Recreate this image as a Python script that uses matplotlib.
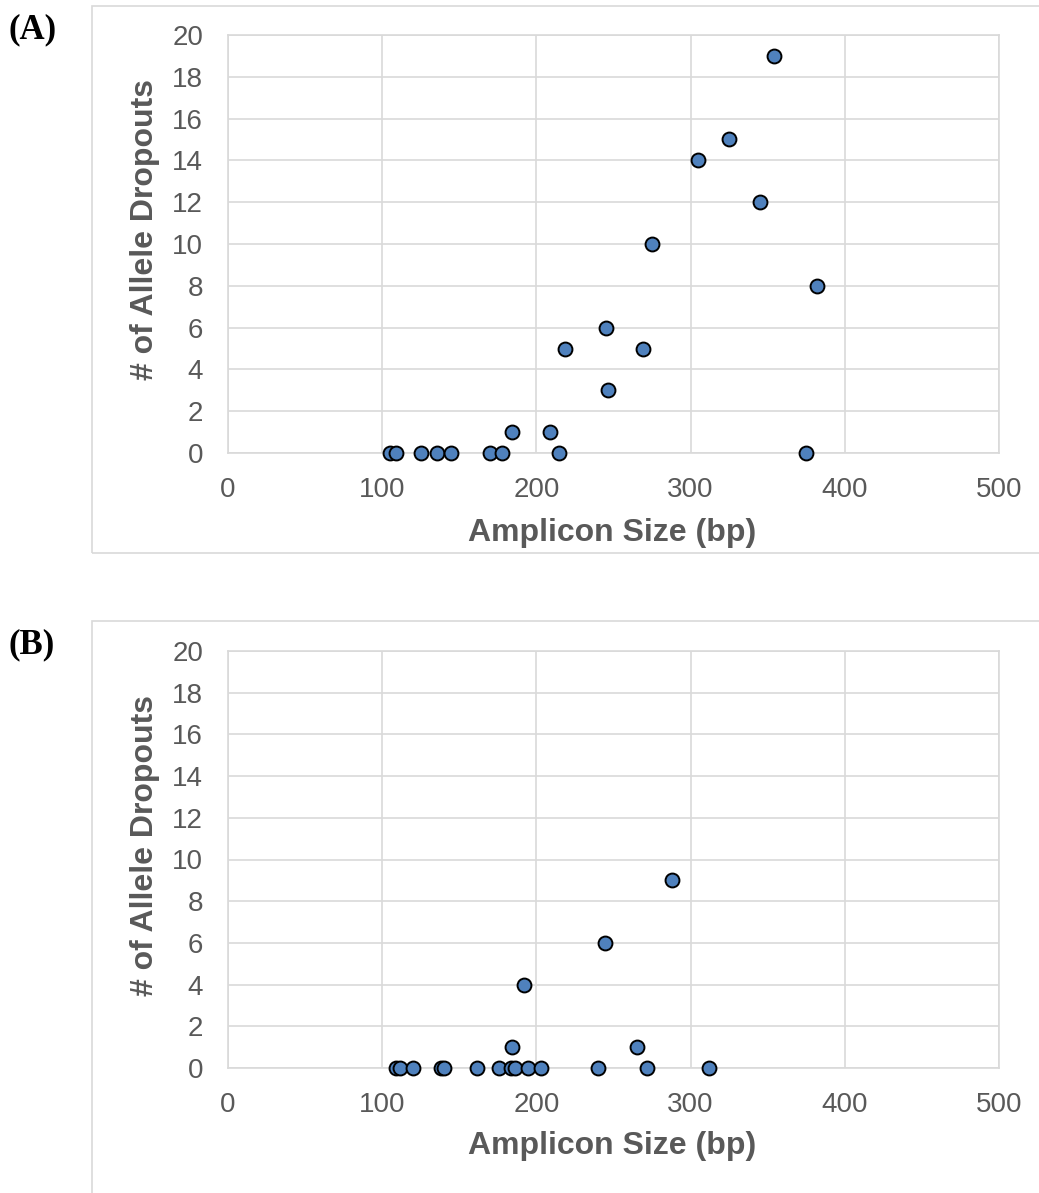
import matplotlib
matplotlib.use('Agg')
import matplotlib.pyplot as plt
from matplotlib.patches import Rectangle

plt.rcParams['font.family'] = ['Liberation Sans', 'DejaVu Sans']

# Panel A: amplicon size (bp) vs number of allele dropouts
size_a = [104.8, 109.2, 124.9, 135.8, 144.8, 169.7, 177.7, 214.7, 374.8,
          184.2, 208.8, 218.4, 245.0, 246.3, 269.0, 274.8, 304.7, 324.8,
          354.0, 345.0, 382.0]
drop_a = [0, 0, 0, 0, 0, 0, 0, 0, 0,
          1, 1, 5, 6, 3, 5, 10, 14, 15,
          19, 12, 8]

# Panel B
size_b = [108.7, 111.7, 119.9, 137.9, 140.0, 161.7, 175.7, 183.3, 185.9,
          194.8, 202.8, 239.8, 271.6, 311.8, 184.2, 265.1, 191.8, 244.4,
          287.8]
drop_b = [0, 0, 0, 0, 0, 0, 0, 0, 0,
          0, 0, 0, 0, 0, 1, 1, 4, 6,
          9]

panels = [("(A)", size_a, drop_a), ("(B)", size_b, drop_b)]

W, H = 1039, 1193
fig = plt.figure(figsize=(W / 100, H / 100), dpi=100)

GRID = '#D9D9D9'
TXT = '#595959'
FILL = '#4F81BD'

def fx(px):
    return px / W

def fy(py):
    return 1 - py / H

# pixel layout: plot top, plot bottom, chart box top, chart box bottom, panel label y, xlabel y
layout = [(35, 453, 6, 553, 30, 533), (651, 1068, 621, 1250, 645, 1146)]
left, right = 228, 999

for (label, xs, ys), (ptop, pbot, btop, bbot, ly, xly) in zip(panels, layout):
    # outer chart area border
    fig.add_artist(Rectangle((fx(92), fy(bbot)), fx(1100 - 92), (bbot - btop) / H,
                             transform=fig.transFigure, fill=False,
                             edgecolor=GRID, lw=1.2))
    ax = fig.add_axes([fx(left), fy(pbot), fx(right - left), (pbot - ptop) / H])
    ax.set_xlim(0, 500)
    ax.set_ylim(0, 20)
    ax.set_xticks(range(0, 501, 100))
    ax.set_yticks(range(0, 21, 2))
    ax.grid(True, color=GRID, lw=1.2)
    ax.set_axisbelow(True)
    for s in ax.spines.values():
        s.set_color(GRID)
        s.set_linewidth(1.2)
    ax.tick_params(length=0, labelsize=20, labelcolor=TXT)
    ax.tick_params(axis='y', pad=18)
    ax.tick_params(axis='x', pad=17)
    ax.scatter(xs, ys, s=100, c=FILL, edgecolors='black', linewidths=1.4,
               zorder=3, clip_on=False)
    # axis titles placed like the source chart
    fig.text(fx(145), fy((ptop + pbot) / 2 - 14), '# of Allele Dropouts',
             fontsize=23, fontweight='bold', color=TXT, rotation=90,
             ha='center', va='center')
    fig.text(fx(612), fy(xly), 'Amplicon Size (bp)', fontsize=23,
             fontweight='bold', color=TXT, ha='center', va='center')
    fig.text(fx(8), fy(ly), label, fontsize=25, fontweight='bold',
             family='Liberation Serif', ha='left', va='center')

fig.savefig('out.png', dpi=100)
